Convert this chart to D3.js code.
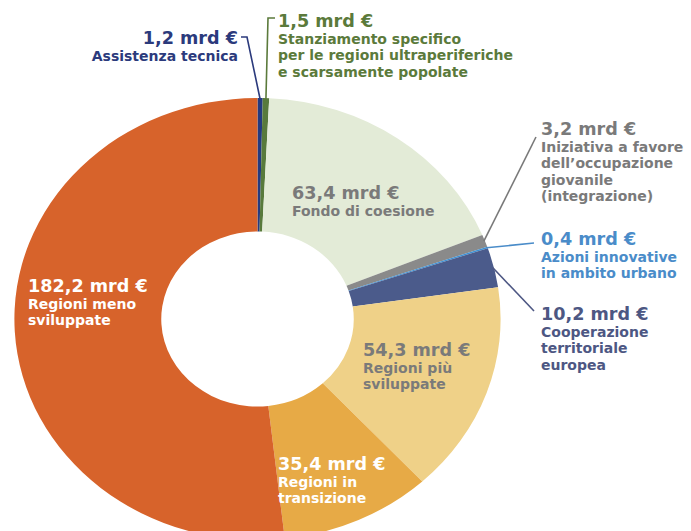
<!DOCTYPE html>
<html>
<head>
<meta charset="utf-8">
<script src="https://cdn.jsdelivr.net/npm/d3@7"></script>
<style>
  body { margin: 0; background: #fff; }
  svg { display: block; }
  text { font-family: "DejaVu Sans", Verdana, sans-serif; font-weight: bold; }
</style>
</head>
<body>
<svg id="chart" width="691" height="531"></svg>
<script>
// Ripartizione dei fondi della politica di coesione (miliardi di euro)
const categories = [
  ["Assistenza tecnica"],
  ["Stanziamento specifico", "per le regioni ultraperiferiche", "e scarsamente popolate"],
  ["Fondo di coesione"],
  ["Iniziativa a favore", "dell’occupazione", "giovanile", "(integrazione)"],
  ["Azioni innovative", "in ambito urbano"],
  ["Cooperazione", "territoriale", "europea"],
  ["Regioni più", "sviluppate"],
  ["Regioni in", "transizione"],
  ["Regioni meno", "sviluppate"]
];
const values = [1.2, 1.5, 63.4, 3.2, 0.4, 10.2, 54.3, 35.4, 182.2];
const sliceColors = ["#243a80", "#587a3c", "#e3ebd7", "#8a8a8a", "#3d90d4", "#4b5b8b", "#efd188", "#e7aa46", "#d7632b"];
const textColors  = ["#2b3a7c", "#5b7a3b", "#7a7a7a", "#7a7a7a", "#4a8cc9", "#4d5783", "#7a7a7a", "#ffffff", "#ffffff"];

// Placement of each label: value baseline, alignment, optional leader elbow/start
const labelLayout = [
  { x: 238, y: 44,  anchor: "end",   lead: [[241, 37], [247, 37]] },
  { x: 278, y: 27,  anchor: "start", lead: [[275, 18], [268, 18]] },
  { x: 292, y: 199, anchor: "start" },
  { x: 541, y: 135, anchor: "start", lead: [[536, 137]] },
  { x: 541, y: 245, anchor: "start", lead: [[534, 243]] },
  { x: 541, y: 320, anchor: "start", lead: [[534, 311]] },
  { x: 363, y: 356, anchor: "start" },
  { x: 278, y: 470, anchor: "start" },
  { x: 28,  y: 292, anchor: "start" }
];

const cx = 257.5, cy = 319;
const rOuter = 221, rInner = 87.5, sx = 1.1;
const lineGap = 16.5;

const svg = d3.select("#chart");

const pie = d3.pie().sort(null).value(d => d).startAngle(0).endAngle(2 * Math.PI);
const arcs = pie(values);
const arc = d3.arc().innerRadius(rInner).outerRadius(rOuter);

const ring = svg.append("g").attr("transform", `translate(${cx},${cy}) scale(${sx},1)`);
ring.selectAll("path")
  .data(arcs)
  .join("path")
  .attr("d", arc)
  .attr("fill", (d, i) => sliceColors[i]);

// point on the (stretched) outer rim at a given angle
function rimPoint(a, r) {
  return [cx + sx * r * Math.sin(a), cy - r * Math.cos(a)];
}

const fmt = v => d3.format(".1f")(v).replace(".", ",") + " mrd €";

// leader lines
arcs.forEach((d, i) => {
  const L = labelLayout[i];
  if (!L.lead) return;
  const mid = (d.startAngle + d.endAngle) / 2;
  const pts = L.lead.concat([rimPoint(mid, rOuter - 1)]);
  svg.append("path")
    .attr("d", d3.line()(pts))
    .attr("fill", "none")
    .attr("stroke", textColors[i])
    .attr("stroke-width", 1.6);
});

// labels
const labels = svg.selectAll("g.lbl")
  .data(arcs)
  .join("g")
  .attr("class", "lbl")
  .attr("text-anchor", (d, i) => labelLayout[i].anchor)
  .attr("fill", (d, i) => textColors[i]);

labels.append("text")
  .attr("x", (d, i) => labelLayout[i].x)
  .attr("y", (d, i) => labelLayout[i].y)
  .attr("font-size", 17.6)
  .text(d => fmt(d.data));

labels.each(function(d, i) {
  const g = d3.select(this);
  categories[i].forEach((line, k) => {
    g.append("text")
      .attr("x", labelLayout[i].x)
      .attr("y", labelLayout[i].y + lineGap * (k + 1))
      .attr("font-size", 14)
      .text(line);
  });
});
</script>
</body>
</html>
